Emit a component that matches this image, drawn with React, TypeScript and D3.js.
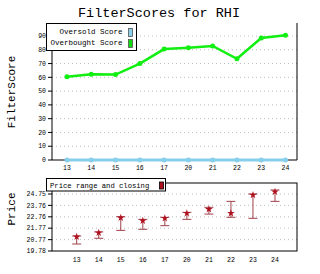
import React from "react";
import * as d3 from "d3";

const categories = ["13", "14", "15", "16", "17", "20", "21", "22", "23", "24"];
const oversold = [0, 0, 0, 0, 0, 0, 0, 0, 0, 0];
const overbought = [60.5, 62.3, 62, 70, 80.5, 81.5, 82.8, 73.5, 88.5, 90.5];
const scoreTicks = [0, 10, 20, 30, 40, 50, 60, 70, 80, 90];

const priceHigh = [21.09, 21.44, 22.77, 22.54, 22.72, 23.15, 23.59, 24.11, 24.75, 25.1];
const priceLow = [20.39, 20.89, 21.58, 21.67, 21.99, 22.54, 23.0, 22.72, 22.63, 24.11];
const priceClose = [21.03, 21.38, 22.68, 22.42, 22.63, 23.07, 23.42, 23.07, 24.66, 24.95];
const priceTicks = [19.78, 20.77, 21.77, 22.76, 23.76, 24.75];

const MONO = "'Liberation Mono', 'DejaVu Sans Mono', monospace";

export default function App() {
  const W = 320, H = 274;
  const L = 52, R = 297;
  const tTop = 23, tBot = 160;
  const bTop = 183, bBot = 251;

  const xTop = d3.scalePoint<string>().domain(categories).range([67, 285.5]);
  const yTop = d3.scaleLinear().domain([0, 90]).range([tBot, 36]);
  const xBot = d3.scalePoint<string>().domain(categories).range([76.7, 275]);
  const yBot = d3.scaleLinear().domain([19.78, 25.71]).range([bBot, bTop]);

  const greenPath = d3.line<number>().x((_, i) => xTop(categories[i])!).y((d) => yTop(d))(overbought)!;
  const bluePath = d3.line<number>().x((_, i) => xTop(categories[i])!).y((d) => yTop(d))(oversold)!;
  const star = d3.symbol().type(d3.symbolStar).size(18)()!;

  return (
    <svg width={W} height={H} style={{ display: "block", position: "absolute", left: 0, top: 0 }}>
      <rect x={0} y={0} width={W} height={H} fill="#fff" />
      <text x={159} y={17} textAnchor="middle" fontFamily={MONO} fontSize={13.5} fill="#000">
        FilterScores for RHI
      </text>

      {/* Top chart */}
      {scoreTicks.filter((t) => t > 0).map((t) => (
        <line key={"g" + t} x1={L} x2={R} y1={yTop(t)} y2={yTop(t)} stroke="#bbb" strokeDasharray="1,3" />
      ))}
      <line x1={L} x2={L} y1={tTop} y2={tBot} stroke="#000" />
      <line x1={R} x2={R} y1={tTop} y2={tBot} stroke="#000" />
      <line x1={L} x2={R} y1={tBot} y2={tBot} stroke="#000" />
      {scoreTicks.map((t) => (
        <g key={"t" + t}>
          <line x1={L - 4} x2={L} y1={yTop(t)} y2={yTop(t)} stroke="#000" />
          <text x={L - 6} y={yTop(t)} dy="0.35em" textAnchor="end" fontFamily={MONO} fontSize={6.5}>
            {t}
          </text>
        </g>
      ))}
      {categories.map((c) => (
        <text key={"xt" + c} x={xTop(c)} y={168} dy="0.35em" textAnchor="middle" fontFamily={MONO} fontSize={6.5}>
          {c}
        </text>
      ))}
      <path d={bluePath} fill="none" stroke="#87ceeb" strokeWidth={3} />
      {oversold.map((v, i) => (
        <circle key={"b" + i} cx={xTop(categories[i])} cy={yTop(v)} r={2.5} fill="#87ceeb" />
      ))}
      <path d={greenPath} fill="none" stroke="#11ee11" strokeWidth={2.5} />
      {overbought.map((v, i) => (
        <circle key={"o" + i} cx={xTop(categories[i])} cy={yTop(v)} r={2.5} fill="#11ee11" />
      ))}
      <text transform={`translate(15,92) rotate(-90)`} textAnchor="middle" fontFamily={MONO} fontSize={11}>
        FilterScore
      </text>

      {/* Top legend */}
      <rect x={46.5} y={23.5} width={90} height={27} fill="#fff" stroke="#000" />
      <text x={122.5} y={31} dy="0.35em" textAnchor="end" fontFamily={MONO} fontSize={7.5}>
        Oversold Score
      </text>
      <rect x={128.5} y={28.5} width={4} height={8} fill="#87ceeb" stroke="#555" strokeWidth={0.8} />
      <text x={122.5} y={42} dy="0.35em" textAnchor="end" fontFamily={MONO} fontSize={7.5}>
        Overbought Score
      </text>
      <rect x={128.5} y={39.5} width={4} height={8} fill="#11dd11" stroke="#555" strokeWidth={0.8} />

      {/* Bottom chart */}
      {priceTicks.filter((t, i) => i > 0).map((t) => (
        <line key={"pg" + t} x1={L} x2={R} y1={yBot(t)} y2={yBot(t)} stroke="#bbb" strokeDasharray="1,3" />
      ))}
      <rect x={L} y={bTop} width={R - L} height={bBot - bTop} fill="none" stroke="#000" />
      {priceTicks.map((t) => (
        <g key={"pt" + t}>
          <line x1={L - 4} x2={L} y1={yBot(t)} y2={yBot(t)} stroke="#000" />
          <text x={L - 6} y={yBot(t)} dy="0.35em" textAnchor="end" fontFamily={MONO} fontSize={6.5}>
            {t.toFixed(2)}
          </text>
        </g>
      ))}
      {categories.map((c) => (
        <text key={"bx" + c} x={xBot(c)} y={259.5} dy="0.35em" textAnchor="middle" fontFamily={MONO} fontSize={6.5}>
          {c}
        </text>
      ))}
      {categories.map((c, i) => {
        const x = xBot(c)!;
        return (
          <g key={"e" + c}>
            <line x1={x} x2={x} y1={yBot(priceHigh[i])} y2={yBot(priceLow[i])} stroke="#a0404a" />
            <line x1={x - 4.5} x2={x + 4.5} y1={yBot(priceHigh[i])} y2={yBot(priceHigh[i])} stroke="#a0404a" />
            <line x1={x - 4.5} x2={x + 4.5} y1={yBot(priceLow[i])} y2={yBot(priceLow[i])} stroke="#a0404a" />
            <path d={star} transform={`translate(${x},${yBot(priceClose[i])})`} fill="#b0101e" />
          </g>
        );
      })}
      <text transform={`translate(15,209) rotate(-90)`} textAnchor="middle" fontFamily={MONO} fontSize={11}>
        Price
      </text>

      {/* Bottom legend */}
      <rect x={46.5} y={178.5} width={119} height={12.5} fill="#fff" stroke="#000" />
      <text x={50} y={185.5} dy="0.35em" fontFamily={MONO} fontSize={7.2}>
        Price range and closing
      </text>
      <rect x={159.5} y={182} width={4} height={7} fill="#b0101e" stroke="#000" strokeWidth={0.8} />
    </svg>
  );
}
